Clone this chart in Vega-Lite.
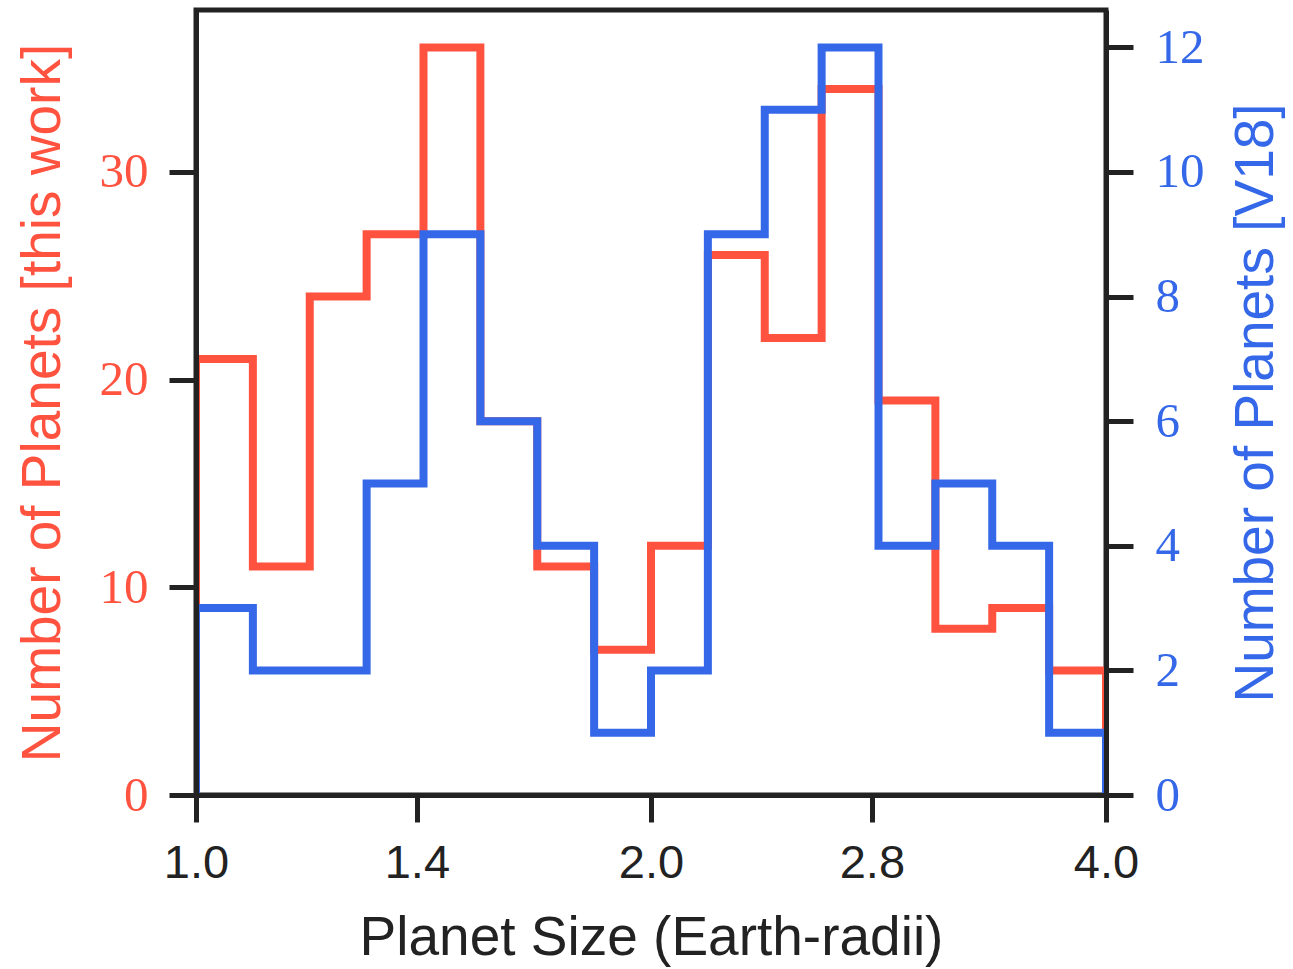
{
  "$schema": "https://vega.github.io/schema/vega-lite/v6.json",
  "width": 910,
  "height": 785,
  "autosize": "none",
  "padding": {"left": 196, "top": 10, "right": 187, "bottom": 174},
  "background": "white",
  "config": {
    "view": {"stroke": "#222222", "strokeWidth": 5},
    "axis": {"grid": false}
  },
  "data": {
    "values": [
      {"s": "this work", "i": 0, "r": 1, "n": 0},
      {"s": "this work", "i": 1, "r": 1, "n": 21},
      {"s": "this work", "i": 2, "r": 1.0905077, "n": 11},
      {"s": "this work", "i": 3, "r": 1.1892071, "n": 24},
      {"s": "this work", "i": 4, "r": 1.2968396, "n": 27},
      {"s": "this work", "i": 5, "r": 1.4142136, "n": 36},
      {"s": "this work", "i": 6, "r": 1.5422108, "n": 18},
      {"s": "this work", "i": 7, "r": 1.6817928, "n": 11},
      {"s": "this work", "i": 8, "r": 1.8340081, "n": 7},
      {"s": "this work", "i": 9, "r": 2, "n": 12},
      {"s": "this work", "i": 10, "r": 2.1810155, "n": 26},
      {"s": "this work", "i": 11, "r": 2.3784142, "n": 22},
      {"s": "this work", "i": 12, "r": 2.5936791, "n": 34},
      {"s": "this work", "i": 13, "r": 2.8284271, "n": 19},
      {"s": "this work", "i": 14, "r": 3.0844217, "n": 8},
      {"s": "this work", "i": 15, "r": 3.3635857, "n": 9},
      {"s": "this work", "i": 16, "r": 3.6680162, "n": 6},
      {"s": "this work", "i": 17, "r": 4, "n": 6},
      {"s": "this work", "i": 18, "r": 4, "n": 0},
      {"s": "V18", "i": 0, "r": 1, "n": 0},
      {"s": "V18", "i": 1, "r": 1, "n": 3},
      {"s": "V18", "i": 2, "r": 1.0905077, "n": 2},
      {"s": "V18", "i": 3, "r": 1.1892071, "n": 2},
      {"s": "V18", "i": 4, "r": 1.2968396, "n": 5},
      {"s": "V18", "i": 5, "r": 1.4142136, "n": 9},
      {"s": "V18", "i": 6, "r": 1.5422108, "n": 6},
      {"s": "V18", "i": 7, "r": 1.6817928, "n": 4},
      {"s": "V18", "i": 8, "r": 1.8340081, "n": 1},
      {"s": "V18", "i": 9, "r": 2, "n": 2},
      {"s": "V18", "i": 10, "r": 2.1810155, "n": 9},
      {"s": "V18", "i": 11, "r": 2.3784142, "n": 11},
      {"s": "V18", "i": 12, "r": 2.5936791, "n": 12},
      {"s": "V18", "i": 13, "r": 2.8284271, "n": 4},
      {"s": "V18", "i": 14, "r": 3.0844217, "n": 5},
      {"s": "V18", "i": 15, "r": 3.3635857, "n": 4},
      {"s": "V18", "i": 16, "r": 3.6680162, "n": 1},
      {"s": "V18", "i": 17, "r": 4, "n": 1},
      {"s": "V18", "i": 18, "r": 4, "n": 0}
    ]
  },
  "encoding": {
    "x": {
      "field": "r",
      "type": "quantitative",
      "scale": {"type": "log", "domain": [1, 4], "nice": false},
      "axis": {
        "values": [1, 1.4, 2, 2.8, 4],
        "format": ".1f",
        "zindex": 1,
        "domainColor": "#222222",
        "domainWidth": 5,
        "tickColor": "#222222",
        "tickWidth": 5,
        "tickSize": 27,
        "labelFont": "Liberation Sans",
        "labelFontSize": 47,
        "labelColor": "#222222",
        "labelPadding": 18,
        "labelFlush": false,
        "labelOverlap": false,
        "title": "Planet Size (Earth-radii)",
        "titleFont": "Liberation Sans",
        "titleFontSize": 55,
        "titleFontWeight": "normal",
        "titleColor": "#222222",
        "titlePadding": 25
      }
    },
    "order": {"field": "i", "type": "quantitative"}
  },
  "layer": [
    {
      "transform": [{"filter": "datum.s === 'this work'"}],
      "mark": {"type": "line", "interpolate": "step-after", "color": "#FF5340", "strokeWidth": 8, "strokeJoin": "miter", "strokeCap": "butt", "clip": true},
      "encoding": {
        "y": {
          "field": "n",
          "type": "quantitative",
          "scale": {"domain": [0, 37.8], "nice": false, "zero": true},
          "axis": {
            "orient": "left",
            "values": [0, 10, 20, 30],
            "zindex": 1,
            "domainColor": "#222222",
            "domainWidth": 5,
            "tickColor": "#222222",
            "tickWidth": 5,
            "tickSize": 27,
            "labelFont": "Liberation Serif",
            "labelFontSize": 49,
            "labelColor": "#FF5340",
            "labelPadding": 21,
            "labelFlush": false,
            "title": "Number of Planets [this work]",
            "titleFont": "Liberation Sans",
            "titleFontSize": 55,
            "titleFontWeight": "normal",
            "titleColor": "#FF5340",
            "titlePadding": 28
          }
        }
      }
    },
    {
      "transform": [{"filter": "datum.s === 'V18'"}],
      "mark": {"type": "line", "interpolate": "step-after", "color": "#3468E8", "strokeWidth": 8, "strokeJoin": "miter", "strokeCap": "butt", "clip": true},
      "encoding": {
        "y": {
          "field": "n",
          "type": "quantitative",
          "scale": {"domain": [0, 12.6], "nice": false, "zero": true},
          "axis": {
            "orient": "right",
            "values": [0, 2, 4, 6, 8, 10, 12],
            "zindex": 1,
            "domainColor": "#222222",
            "domainWidth": 5,
            "tickColor": "#222222",
            "tickWidth": 5,
            "tickSize": 27,
            "labelFont": "Liberation Serif",
            "labelFontSize": 49,
            "labelColor": "#3468E8",
            "labelPadding": 22,
            "labelFlush": false,
            "title": "Number of Planets [V18]",
            "titleFont": "Liberation Sans",
            "titleFontSize": 55,
            "titleFontWeight": "normal",
            "titleColor": "#3468E8",
            "titleAngle": -90,
            "titleBaseline": "top",
            "titlePadding": 25
          }
        }
      }
    }
  ],
  "resolve": {"scale": {"y": "independent"}}
}
